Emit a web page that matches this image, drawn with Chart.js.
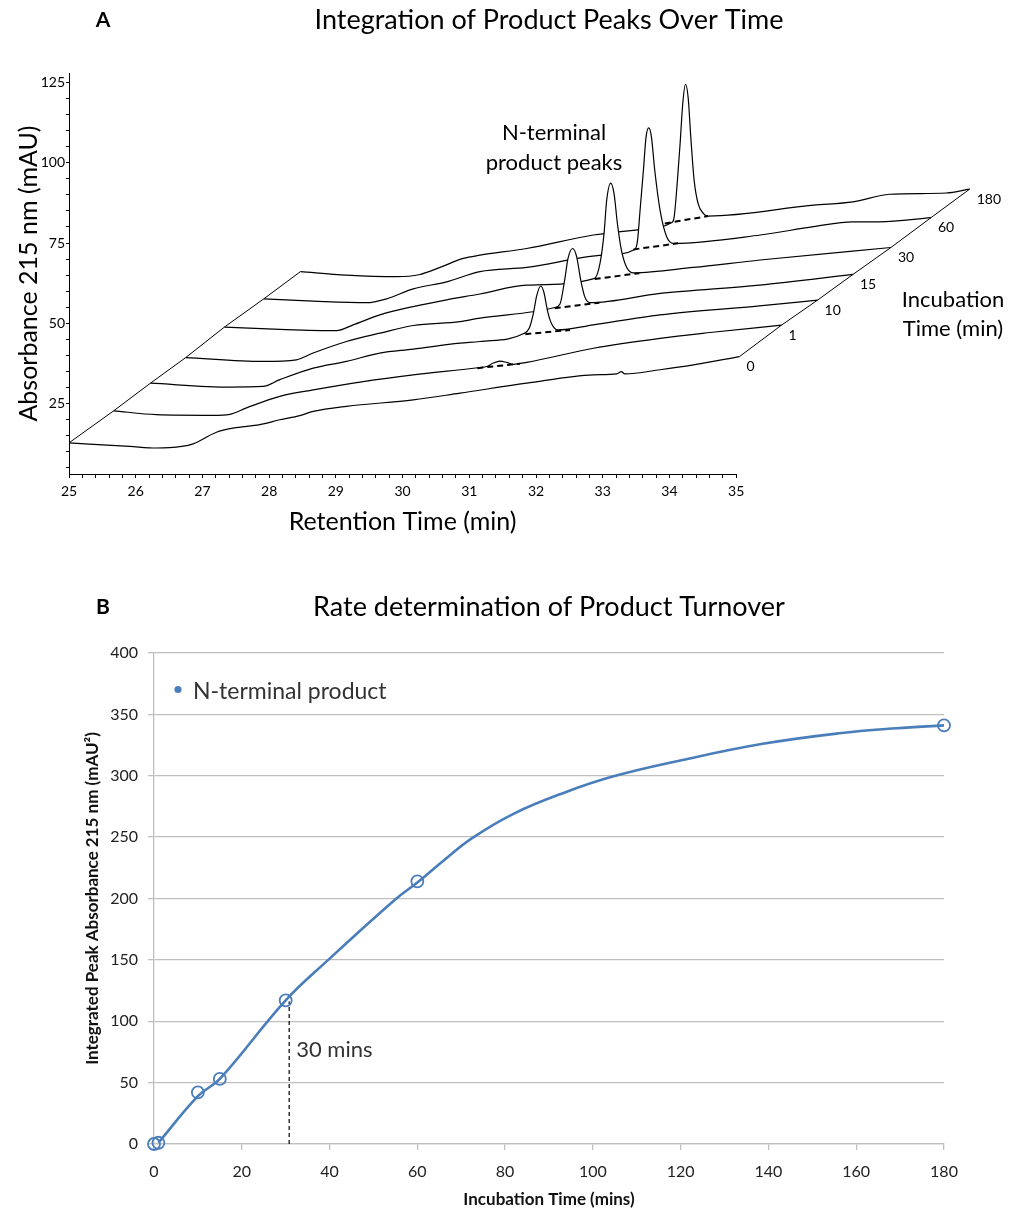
<!DOCTYPE html>
<html>
<head>
<meta charset="utf-8">
<script src="https://cdn.jsdelivr.net/npm/chart.js@4/dist/chart.umd.min.js"></script>
<style>
body { margin: 0; background: #fff; width: 1011px; height: 1213px; position: relative; overflow: hidden; }
#chartA { position: absolute; left: 0; top: 0; }
#chartB { position: absolute; left: 0; top: 560px; }
</style>
</head>
<body>
<canvas id="chartA" width="1011" height="560"></canvas>
<canvas id="chartB" width="1011" height="653"></canvas>
<script>
// ---- panel A: chromatograms, [retention time (min), absorbance (mAU)]
var incubationTimes = ['0', '1', '10', '15', '30', '60', '180'];
var retentionLabels = [25, 26, 27, 28, 29, 30, 31, 32, 33, 34, 35];
var absorbanceLabels = [25, 50, 75, 100, 125];

var trace0 = [[25.00,12.7],[25.91,11.6],[26.31,11.1],[26.69,11.6],[26.86,12.4],[27.21,16.0],[27.46,17.3],[27.86,18.4],[28.16,19.9],[28.46,21.2],[28.66,22.5],[29.16,24.1],[30.16,26.1],[30.86,28.2],[31.86,31.3],[32.86,33.9],[33.21,34.2],[33.28,34.9],[33.33,34.2],[33.86,35.5],[34.36,37.0],[35.05,39.6]];
var trace1 = [[25.67,22.7],[26.31,21.5],[27.16,21.3],[27.41,21.6],[27.66,23.6],[28.16,27.2],[28.66,29.2],[29.41,31.8],[30.16,33.9],[31.16,36.2],[31.26,36.5],[31.36,37.6],[31.46,38.2],[31.56,37.8],[31.66,37.2],[31.86,37.8],[32.86,42.2],[33.86,45.3],[34.61,47.1],[35.68,49.4]];
var trace10 = [[26.22,31.3],[27.41,30.1],[27.91,30.3],[28.16,32.4],[28.66,36.0],[29.16,38.1],[29.66,40.7],[30.16,41.9],[30.86,43.8],[31.16,44.3],[31.81,46.7],[31.90,48.5],[31.96,53.0],[32.01,58.5],[32.07,61.6],[32.12,59.5],[32.17,54.1],[32.23,50.0],[32.33,47.9],[32.86,49.5],[33.86,52.6],[35.35,55.4],[36.22,57.2]];
var trace15 = [[26.75,39.3],[27.91,38.1],[28.41,38.6],[28.66,40.7],[29.16,44.3],[29.66,46.9],[30.16,49.3],[30.86,50.5],[31.16,51.6],[32.28,54.9],[32.36,56.0],[32.43,63.5],[32.48,70.2],[32.55,73.3],[32.61,70.7],[32.67,63.5],[32.73,58.3],[32.81,56.4],[33.86,59.3],[35.35,61.9],[36.75,65.2]];
var trace30 = [[27.33,48.8],[28.16,48.1],[29.01,47.7],[29.26,49.5],[29.66,52.6],[30.16,55.2],[30.66,57.3],[31.16,59.1],[31.86,61.9],[32.88,64.0],[32.96,68.7],[33.02,78.0],[33.06,88.4],[33.12,93.7],[33.17,90.4],[33.22,81.1],[33.28,72.8],[33.36,67.4],[33.46,65.7],[34.36,67.4],[35.36,69.7],[37.32,73.6]];
var trace60 = [[27.92,57.6],[28.66,56.9],[29.46,56.4],[29.76,57.6],[30.16,60.7],[30.66,62.9],[31.16,66.1],[31.86,67.4],[33.01,71.2],[33.48,73.0],[33.52,75.5],[33.56,85.2],[33.61,97.7],[33.65,108.1],[33.69,110.9],[33.73,108.1],[33.78,97.7],[33.86,85.2],[33.96,76.9],[34.06,74.9],[35.36,77.5],[36.16,80.1],[36.75,81.6],[37.15,81.6],[37.92,82.9]];
var trace180 = [[28.47,66.1],[29.16,65.0],[29.91,64.5],[30.26,65.2],[30.56,67.4],[30.91,70.2],[31.16,71.2],[31.86,73.3],[32.86,77.5],[33.56,79.2],[34.03,81.3],[34.07,83.0],[34.12,94.6],[34.16,106.0],[34.20,118.5],[34.24,124.5],[34.28,120.5],[34.32,108.1],[34.37,94.6],[34.43,87.3],[34.51,84.2],[34.58,83.4],[36.16,86.8],[36.75,87.8],[37.30,90.2],[38.15,90.6],[38.50,91.8]];

// integration baselines under the product peaks
var dash1 = [[31.12,36.0],[31.76,37.4]];
var dash10 = [[31.84,46.6],[32.51,47.9]];
var dash15 = [[32.28,54.7],[32.95,56.4]];
var dash30 = [[32.88,63.8],[33.55,65.6]];
var dash60 = [[33.46,73.0],[34.13,74.9]];
var dash180 = [[33.93,81.1],[34.58,83.4]];

// ---- panel B: integrated peak area vs incubation time
var incubationMins = [0, 1, 10, 15, 30, 60, 180];
var peakArea = [0, 1, 42, 53, 117, 214, 341];
// smoothed curve
var fitMins = [1, 10, 15, 30, 39.7, 54.9, 60, 66, 72.4, 81.9, 93.3, 104.7, 119.9, 138.7, 156.1, 169.2, 180];
var fitArea = [1, 39, 53, 117, 150, 199, 213, 231, 249, 269, 286, 299.5, 312.4, 326, 334.6, 338.7, 341];
var markerMins = [30.8, 30.8];
var markerArea = [0, 116];

var traces = [trace0, trace1, trace10, trace15, trace30, trace60, trace180];
var dashes = [null, dash1, dash10, dash15, dash30, dash60, dash180];

function drawText(ctx, text, x, y, font, align, color) {
    ctx.save();
    ctx.font = font;
    ctx.fillStyle = color || '#000';
    ctx.textAlign = align || 'center';
    ctx.textBaseline = 'middle';
    ctx.fillText(text, x, y);
    ctx.restore();
}

var datasetsA = [];
traces.forEach(function(t, i) {
    datasetsA.push({
        label: incubationTimes[i] + ' min',
        data: t,
        borderColor: '#000',
        borderWidth: 1.2,
        backgroundColor: '#fff',
        fill: 'start',
        cubicInterpolationMode: 'monotone',
        pointRadius: 0,
        order: 2 * i + 2
    });
    if (dashes[i]) {
        datasetsA.push({
            data: dashes[i],
            borderColor: '#000',
            borderWidth: 2,
            borderDash: [6, 4],
            fill: false,
            pointRadius: 0,
            order: 2 * i + 1
        });
    }
});
// 3D frame edges through the start and end of every trace
datasetsA.push({ data: traces.map(function(t) { return t[0]; }), borderColor: '#000', borderWidth: 1, fill: false, pointRadius: 0, order: 0 });
datasetsA.push({ data: traces.map(function(t) { return t[t.length - 1]; }), borderColor: '#000', borderWidth: 1, fill: false, pointRadius: 0, order: 0 });

var panelA = {
    id: 'panelA',
    afterDraw: function(chart) {
        var ctx = chart.ctx, xs = chart.scales.x, area = chart.chartArea;
        var x0 = xs.getPixelForValue(retentionLabels[0]);
        var x1 = xs.getPixelForValue(retentionLabels[retentionLabels.length - 1]);
        ctx.save();
        ctx.strokeStyle = '#000';
        ctx.lineWidth = 1;
        ctx.beginPath();
        ctx.moveTo(x0, area.bottom + 0.5);
        ctx.lineTo(x1, area.bottom + 0.5);
        ctx.moveTo(area.left + 0.5, area.top);
        ctx.lineTo(area.left + 0.5, area.bottom);
        ctx.stroke();
        ctx.restore();

        drawText(ctx, 'Retention Time (min)', (x0 + x1) / 2, 522, '25px Lato');
        drawText(ctx, 'A', 103, 20, 'bold 21px Lato');
        drawText(ctx, 'Integration of Product Peaks Over Time', 549, 20, '27px Lato');
        drawText(ctx, 'N-terminal', 554, 133, '22px Lato');
        drawText(ctx, 'product peaks', 554, 163, '22px Lato');
        drawText(ctx, 'Incubation', 953, 300, '22px Lato');
        drawText(ctx, 'Time (min)', 953, 329, '22px Lato');

        var ys = chart.scales.y;
        traces.forEach(function(t, i) {
            var end = t[t.length - 1];
            drawText(ctx, incubationTimes[i], xs.getPixelForValue(end[0]) + 7, ys.getPixelForValue(end[1]) + 10, '14px Lato', 'left');
        });
    }
};

new Chart(document.getElementById('chartA'), {
    type: 'line',
    data: { datasets: datasetsA },
    options: {
        responsive: false,
        animation: false,
        layout: { padding: { top: 73, right: 8, left: 0, bottom: 0 } },
        plugins: { legend: { display: false }, tooltip: { enabled: false } },
        scales: {
            x: {
                type: 'linear', min: 25, max: 39,
                afterFit: function(s) { s.height = 86; },
                afterBuildTicks: function(s) {
                    var ticks = [];
                    for (var v = retentionLabels[0]; v <= retentionLabels[retentionLabels.length - 1] + 1e-6; v += 0.2) {
                        ticks.push({ value: Math.round(v * 10) / 10 });
                    }
                    s.ticks = ticks;
                },
                border: { display: false },
                grid: { drawOnChartArea: false, drawTicks: true, tickLength: 4, color: '#000' },
                ticks: {
                    autoSkip: false, maxRotation: 0, padding: 5, color: '#000',
                    font: { family: 'Lato', size: 14 },
                    callback: function(v) { return retentionLabels.indexOf(v) >= 0 ? v : ''; }
                }
            },
            y: {
                type: 'linear', min: 3, max: 128,
                afterFit: function(s) { s.width = 69; },
                afterBuildTicks: function(s) {
                    var ticks = [];
                    for (var v = 5; v <= absorbanceLabels[absorbanceLabels.length - 1]; v += 5) ticks.push({ value: v });
                    s.ticks = ticks;
                },
                border: { display: false },
                grid: { drawOnChartArea: false, drawTicks: true, tickLength: 3, color: '#000' },
                ticks: {
                    autoSkip: false, padding: 1, color: '#000',
                    font: { family: 'Lato', size: 14 },
                    callback: function(v) { return absorbanceLabels.indexOf(v) >= 0 ? v : ''; }
                },
                title: {
                    display: true, text: 'Absorbance 215 nm (mAU)', color: '#000',
                    font: { family: 'Lato', size: 25 }, padding: { top: 14, bottom: 0 }
                }
            }
        }
    },
    plugins: [panelA]
});

// ---- panel B
var blue = '#4A7EBB';
var panelB = {
    id: 'panelB',
    afterDraw: function(chart) {
        var ctx = chart.ctx, xs = chart.scales.x;
        drawText(ctx, 'B', 103, 47, 'bold 21px Lato');
        drawText(ctx, 'Rate determination of Product Turnover', 549, 47, '27px Lato');
        drawText(ctx, '30 mins', xs.getPixelForValue(markerMins[0]) + 7, 490, '22px Lato', 'left', '#333');
        var ds = chart.data.datasets[0];
        ctx.save();
        ctx.fillStyle = ds.borderColor;
        ctx.beginPath();
        ctx.arc(178, 129.5, 3.6, 0, Math.PI * 2);
        ctx.fill();
        ctx.restore();
        drawText(ctx, ds.label, 193, 132, '23px Lato', 'left', '#333');
    }
};

new Chart(document.getElementById('chartB'), {
    type: 'line',
    data: {
        datasets: [
            {
                label: 'N-terminal product',
                data: fitMins.map(function(m, i) { return { x: m, y: fitArea[i] }; }),
                borderColor: blue, borderWidth: 2.6, fill: false, pointRadius: 0,
                tension: 0.4, order: 2
            },
            {
                label: 'N-terminal product points',
                data: incubationMins.map(function(m, i) { return { x: m, y: peakArea[i] }; }),
                showLine: false, pointRadius: 6, pointBorderWidth: 1.8, clip: false,
                pointBorderColor: blue, pointBackgroundColor: 'rgba(0,0,0,0)', order: 1
            },
            {
                label: '30 mins',
                data: markerMins.map(function(m, i) { return { x: m, y: markerArea[i] }; }),
                borderColor: '#000', borderWidth: 1.2, borderDash: [4, 3], fill: false, pointRadius: 0, order: 3
            }
        ]
    },
    options: {
        responsive: false,
        animation: false,
        layout: { padding: { top: 93, right: 67, left: 0, bottom: 0 } },
        plugins: { legend: { display: false }, tooltip: { enabled: false } },
        scales: {
            x: {
                type: 'linear', min: 0, max: 180,
                afterFit: function(s) { s.height = 69; },
                border: { display: true, color: '#bfbfbf', width: 1.3 },
                grid: { drawOnChartArea: false, drawTicks: true, tickLength: 6, color: '#bfbfbf', lineWidth: 1.3 },
                ticks: { stepSize: 20, padding: 12, color: '#222', maxRotation: 0, font: { family: 'Lato', size: 16 } },
                title: {
                    display: true, text: 'Incubation Time (mins)', color: '#111',
                    font: { family: 'Lato', size: 17, weight: 'bold' }, padding: { top: 0, bottom: 3 }
                }
            },
            y: {
                type: 'linear', min: 0, max: 400,
                afterFit: function(s) { s.width = 154; },
                border: { display: true, color: '#bfbfbf', width: 1.3 },
                grid: { drawTicks: true, tickLength: 6, color: '#bfbfbf', lineWidth: 1.3 },
                ticks: { stepSize: 50, padding: 10, color: '#222', font: { family: 'Lato', size: 16 } },
                title: {
                    display: true, text: 'Integrated Peak Absorbance 215 nm (mAU²)', color: '#111',
                    font: { family: 'Lato', size: 17, weight: 'bold' }, padding: { top: 82, bottom: 0 }
                }
            }
        }
    },
    plugins: [panelB]
});
</script>
</body>
</html>
